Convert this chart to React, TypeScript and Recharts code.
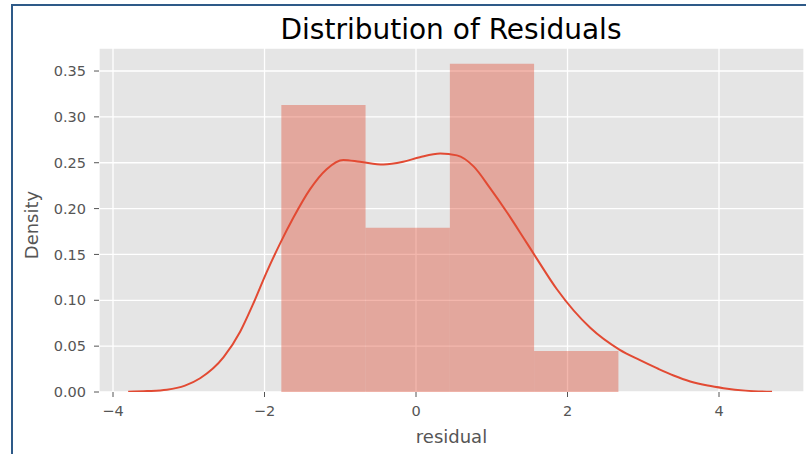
import React from 'react';
import { ComposedChart, Line, XAxis, YAxis, CartesianGrid, ReferenceArea } from 'recharts';

const binEdges = [-1.778, -0.666, 0.447, 1.559, 2.672];
const binDensity = [0.313, 0.179, 0.358, 0.0446];

const kdeX = [-3.8, -3.55, -3.29, -3.05, -2.85, -2.54, -2.32, -2.15, -1.97, -1.8, -1.62, -1.4, -1.18, -0.96, -0.74, -0.43, -0.17, 0.05, 0.32, 0.54, 0.76, 0.98, 1.2, 1.42, 1.59, 1.86, 2.3, 2.69, 2.95, 3.18, 3.4, 3.62, 3.85, 4.06, 4.35, 4.7];
const kdeY = [0.0003, 0.001, 0.0025, 0.007, 0.015, 0.038, 0.066, 0.096, 0.131, 0.161, 0.19, 0.221, 0.243, 0.253, 0.251, 0.248, 0.251, 0.256, 0.26, 0.258, 0.246, 0.222, 0.196, 0.168, 0.146, 0.112, 0.07, 0.046, 0.035, 0.026, 0.018, 0.0115, 0.007, 0.0042, 0.0015, 0.0003];

const xTicks = [-4, -2, 0, 2, 4];
const yTicks = [0, 0.05, 0.1, 0.15, 0.2, 0.25, 0.3, 0.35];
const title = 'Distribution of Residuals';
const xLabel = 'residual';
const yLabel = 'Density';

const FONT = '"DejaVu Sans", sans-serif';
const RED = '#E24A33';
const GREY_TXT = '#555555';

const kdeData = kdeX.map((x, i) => ({ x, y: kdeY[i] }));

const YLabel = (props: any) => {
  const vb = props.viewBox || { x: 0, y: 48, width: 99, height: 344 };
  const cx = vb.x + 38;
  const cy = vb.y + vb.height / 2 + 5;
  return (
    <text
      x={cx}
      y={cy}
      transform={`rotate(-90, ${cx}, ${cy})`}
      textAnchor="middle"
      fontFamily={FONT}
      fontSize={18}
      fill={GREY_TXT}
    >
      {yLabel}
    </text>
  );
};

export default function App() {
  return (
    <div style={{ position: 'absolute', left: 0, top: 0, width: 806, height: 454, background: '#fff', overflow: 'hidden' }}>
      <div style={{ position: 'absolute', left: 11, top: 5, width: 2, height: 449, background: '#2E5A88' }} />
      <div style={{ position: 'absolute', left: 11, top: 4, width: 795, height: 2, background: '#2E5A88' }} />
      <ComposedChart
        width={806}
        height={454}
        data={kdeData}
        margin={{ top: 48, right: 2, bottom: 11, left: 0 }}
        style={{ position: 'absolute', left: 0, top: 0 }}
      >
        <CartesianGrid fill="#E5E5E5" stroke="#FFFFFF" strokeWidth={1.3} />
        <XAxis
          type="number"
          dataKey="x"
          domain={[-4.185, 5.122]}
          ticks={xTicks}
          interval={0}
          allowDataOverflow
          axisLine={false}
          tickLine={{ stroke: GREY_TXT }}
          tickSize={5}
          tickMargin={9}
          height={51}
          tick={{ fill: GREY_TXT, fontSize: 14.5, fontFamily: FONT }}
          tickFormatter={(v: number) => String(v).replace('-', '\u2212')}
          label={{ value: xLabel, position: 'insideBottom', offset: 0, fill: GREY_TXT, fontSize: 18, fontFamily: FONT }}
        />
        <YAxis
          type="number"
          domain={[0, 0.3751]}
          ticks={yTicks}
          interval={0}
          allowDataOverflow
          axisLine={false}
          tickLine={{ stroke: GREY_TXT }}
          tickSize={5}
          tickMargin={8}
          width={99}
          tick={{ fill: GREY_TXT, fontSize: 14.5, fontFamily: FONT }}
          tickFormatter={(v: number) => v.toFixed(2)}
          label={<YLabel />}
        />
        {binDensity.map((d, i) => (
          <ReferenceArea
            key={i}
            x1={binEdges[i]}
            x2={binEdges[i + 1]}
            y1={0}
            y2={d}
            fill={RED}
            fillOpacity={0.4}
            stroke="none"
            strokeWidth={0}
          />
        ))}
        <Line
          type="monotone"
          dataKey="y"
          stroke={RED}
          strokeWidth={2}
          dot={false}
          activeDot={false}
          isAnimationActive={false}
        />
      </ComposedChart>
      <svg width={806} height={454} style={{ position: 'absolute', left: 0, top: 0, pointerEvents: 'none' }}>
        <text x={451} y={38.5} textAnchor="middle" fontFamily={FONT} fontSize={28} fill="#000">
          {title}
        </text>
      </svg>
    </div>
  );
}
